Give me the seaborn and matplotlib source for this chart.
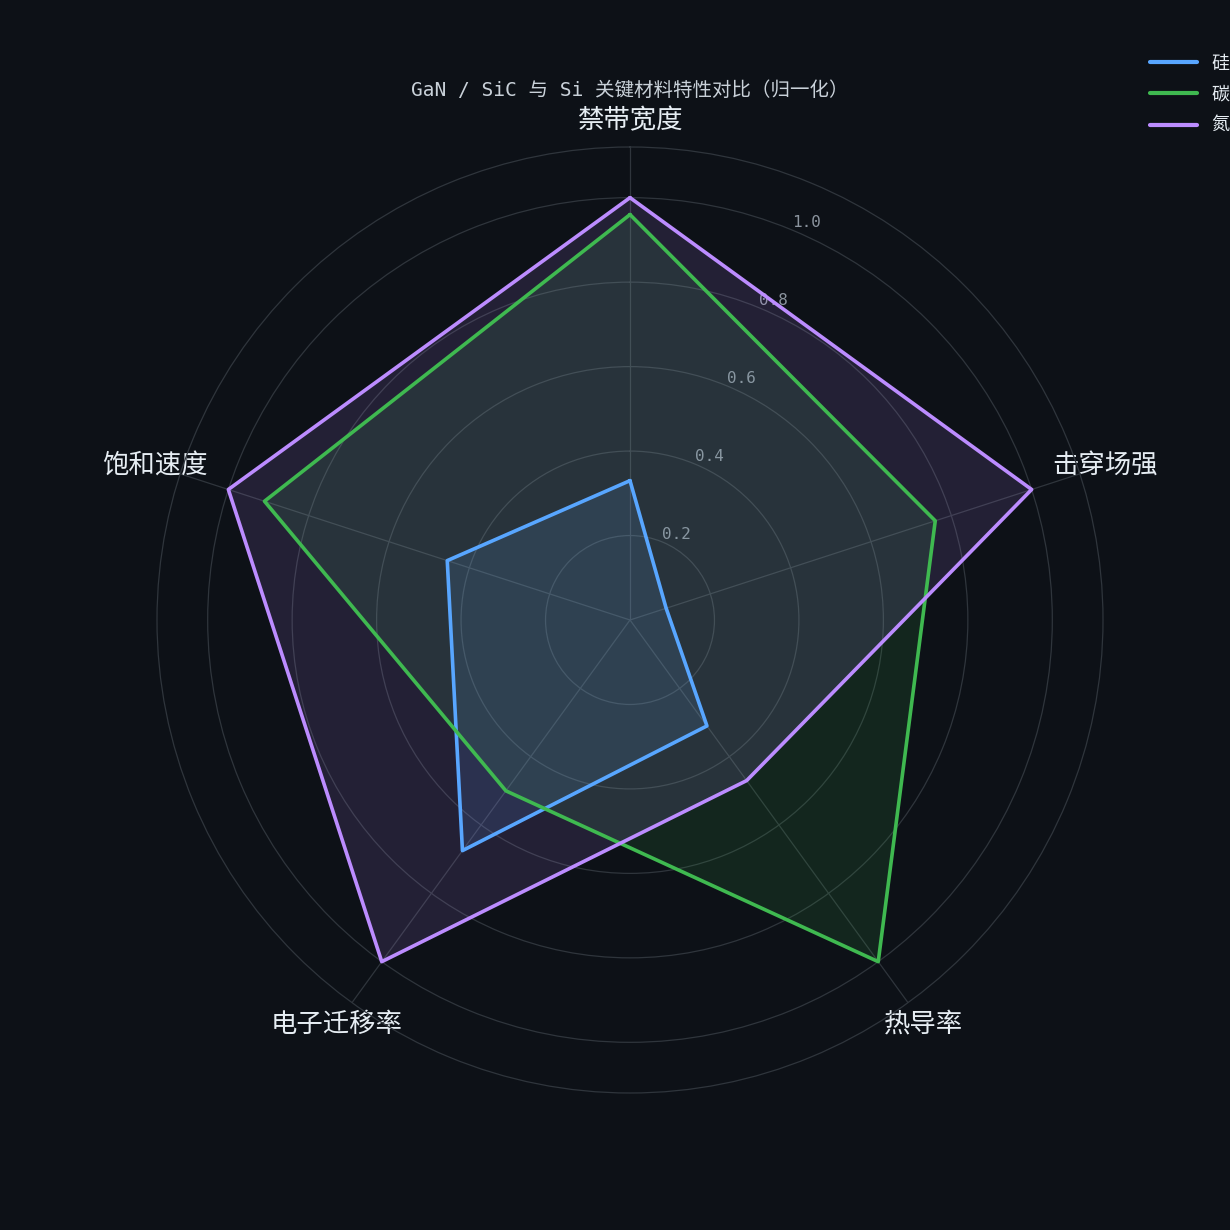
import numpy as np
import pandas as pd
import matplotlib
matplotlib.use('Agg')
import matplotlib.pyplot as plt
import seaborn as sns

# data (normalised to the best material per property)
categories = ['禁带宽度', '击穿场强', '热导率', '电子迁移率', '饱和速度']
materials = ['硅 (Si)', '碳化硅 (SiC)', '氮化镓 (GaN)']
si_vals = [0.33, 0.09, 0.31, 0.675, 0.455]
sic_vals = [0.96, 0.76, 1.00, 0.50, 0.91]
gan_vals = [1.00, 1.00, 0.47, 1.00, 1.00]
r_ticks = [0.2, 0.4, 0.6, 0.8, 1.0]
r_tick_labels = ['0.2', '0.4', '0.6', '0.8', '1.0']
title = 'GaN / SiC 与 Si 关键材料特性对比（归一化）'

colors = ['#58a6ff', '#3fb950', '#bc8cff']
bg = '#0d1117'
grid_c = '#2f353c'

sns.set_theme(style='dark', rc={
    'figure.facecolor': bg,
    'axes.facecolor': bg,
    'savefig.facecolor': bg,
    'text.color': '#e6edf3',
    'axes.edgecolor': grid_c,
    'grid.color': grid_c,
})
plt.rcParams['font.family'] = ['Noto Sans CJK SC', 'DejaVu Sans']
mono = ['DejaVu Sans Mono', 'Noto Sans CJK SC']

# build long table, closing each polygon
angles = np.linspace(0, 2 * np.pi, len(categories), endpoint=False)
rows = []
for name, vals in zip(materials, [si_vals, sic_vals, gan_vals]):
    for a, v in zip(list(angles) + [2 * np.pi], vals + vals[:1]):
        rows.append({'material': name, 'theta': a, 'value': v})
df = pd.DataFrame(rows)

fig = plt.figure(figsize=(12.3, 12.3), dpi=100)
ax = fig.add_axes([157 / 1230, 137 / 1230, 946 / 1230, 946 / 1230], projection='polar')
ax.set_facecolor(bg)
ax.set_theta_offset(np.pi / 2)
ax.set_theta_direction(-1)

sns.lineplot(data=df, x='theta', y='value', hue='material', palette=colors,
             sort=False, estimator=None, linewidth=2.6, ax=ax, legend=False)
for name, c in zip(materials, colors):
    sub = df[df['material'] == name]
    ax.fill(sub['theta'], sub['value'], color=c, alpha=0.13, linewidth=0)

ax.set_ylim(0, 1.12)
ax.set_xticks(angles)
ax.set_xticklabels(categories, fontsize=19, color='#e6edf3')
ax.tick_params(axis='x', pad=6)
ax.set_yticks(r_ticks)
ax.set_yticklabels(r_tick_labels, fontsize=11.5, color='#8b949e', family=mono)
ax.set_rlabel_position(22.5)
ax.set_xlabel('')
ax.set_ylabel('')
ax.grid(True, color=grid_c, linewidth=0.9)
ax.spines['polar'].set_color(grid_c)
ax.spines['polar'].set_linewidth(0.9)

fig.text(630 / 1230, 1 - 90 / 1230, title, ha='center', va='center',
         fontsize=14, color='#c9d1d9', family=mono)

handles = [plt.Line2D([], [], color=c, linewidth=3) for c in colors]
fig.legend(handles, materials, loc='upper left', bbox_to_anchor=(1143 / 1230, 0.962),
           borderaxespad=0, frameon=False, fontsize=13, handlelength=2.6,
           labelspacing=0.67, labelcolor='#e6edf3')

fig.savefig('out.png', dpi=100)
